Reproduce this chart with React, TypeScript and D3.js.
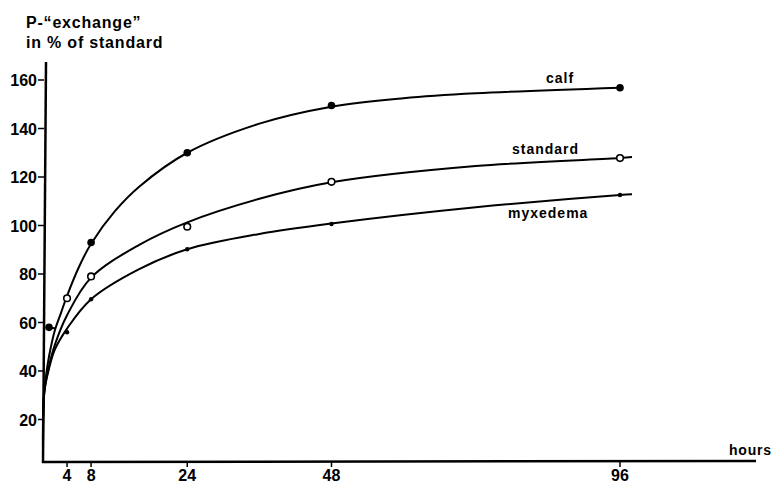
import React from "react";
import * as d3 from "d3";

// Measured points (hours, % of standard)
const calfHours = [1, 8, 24, 48, 96];
const calfValues = [58, 93, 130, 149.5, 156.8];
const standardHours = [4, 8, 24, 48, 96];
const standardValues = [70, 79, 99.5, 118, 127.8];
const myxHours = [4, 8, 24, 48, 96];
const myxValues = [56, 69.6, 90.2, 100.6, 112.6];

// Hand-drawn fitted curves
const calfCurveHours = [0, 0.2, 0.5, 1, 2, 3, 4, 6, 8, 12, 16, 24, 36, 48, 60, 72, 96];
const calfCurveValues = [8, 31, 38, 46, 57, 64, 71, 83, 92.5, 106, 116, 130, 142, 149, 152.5, 154.5, 156.8];
const standardCurveHours = [0, 0.2, 1, 2, 4, 8, 16, 24, 36, 48, 72, 96, 98];
const standardCurveValues = [8, 31, 42, 51, 63, 78.5, 92, 101.3, 111, 117.8, 124.5, 127.8, 128.2];
const myxCurveHours = [0, 0.2, 1, 2, 4, 8, 16, 24, 36, 48, 72, 96, 98];
const myxCurveValues = [8, 31, 41, 49, 57.5, 69.6, 82, 90.2, 96.5, 100.8, 107.5, 112.6, 112.9];

const yTicks = [20, 40, 60, 80, 100, 120, 140, 160];
const xTicks = [4, 8, 24, 48, 96];

const FONT = "'Liberation Sans', Arial, sans-serif";

export default function App() {
  const x = d3.scaleLinear().domain([0, 96]).range([43, 620]);
  const y = d3.scaleLinear().domain([0, 160]).range([468, 80]);
  const axisY = 462;
  const axisX = 44;

  const line = d3
    .line<[number, number]>()
    .x((d) => x(d[0]))
    .y((d) => y(d[1]))
    .curve(d3.curveCatmullRom.alpha(0.5));

  const zip = (a: number[], b: number[]) => a.map((h, i) => [h, b[i]] as [number, number]);

  return (
    <svg
      width={772}
      height={483}
      style={{ position: "absolute", left: 0, top: 0, background: "#fff" }}
      fontFamily={FONT}
      fontWeight="bold"
    >
      <rect x={0} y={0} width={772} height={483} fill="#fff" />
      {/* title */}
      <text x={26} y={28} fontSize={16} letterSpacing={0.8}>
        P-“exchange”
      </text>
      <text x={26} y={48} fontSize={16} letterSpacing={0.8}>
        in % of standard
      </text>

      {/* axes */}
      <line x1={axisX + 2} y1={62} x2={axisX - 1} y2={axisY + 1} stroke="#000" strokeWidth={2.5} />
      <line x1={axisX - 2} y1={axisY} x2={756} y2={axisY - 1} stroke="#000" strokeWidth={2.5} />

      {yTicks.map((t) => (
        <g key={t}>
          <line x1={axisX - 6} y1={y(t)} x2={axisX} y2={y(t)} stroke="#000" strokeWidth={1.5} />
          <text x={axisX - 7} y={y(t) + 6} fontSize={16} textAnchor="end">
            {t}
          </text>
        </g>
      ))}
      {xTicks.map((t) => (
        <g key={t}>
          <line x1={x(t)} y1={axisY} x2={x(t)} y2={axisY + 5} stroke="#000" strokeWidth={1.5} />
          <text x={x(t)} y={481} fontSize={16} textAnchor="middle">
            {t}
          </text>
        </g>
      ))}
      <text x={729} y={455} fontSize={14} letterSpacing={0.8}>
        hours
      </text>

      {/* curves */}
      <path d={line(zip(calfCurveHours, calfCurveValues)) || ""} fill="none" stroke="#000" strokeWidth={2} />
      <path d={line(zip(standardCurveHours, standardCurveValues)) || ""} fill="none" stroke="#000" strokeWidth={2} />
      <path d={line(zip(myxCurveHours, myxCurveValues)) || ""} fill="none" stroke="#000" strokeWidth={2} />

      {/* calf 1h connector */}
      <line x1={x(calfHours[0])} y1={y(calfValues[0])} x2={x(2.1)} y2={y(57.5)} stroke="#000" strokeWidth={2} />

      {/* points */}
      {calfHours.map((h, i) => (
        <circle key={"c" + i} cx={x(h)} cy={y(calfValues[i])} r={3.8} fill="#000" />
      ))}
      {standardHours.map((h, i) => (
        <circle key={"s" + i} cx={x(h)} cy={y(standardValues[i])} r={3.3} fill="#fff" stroke="#000" strokeWidth={1.6} />
      ))}
      {myxHours.map((h, i) => (
        <circle key={"m" + i} cx={x(h)} cy={y(myxValues[i])} r={2.2} fill="#000" />
      ))}

      {/* labels */}
      <text x={546} y={83} fontSize={14} letterSpacing={1}>
        calf
      </text>
      <text x={512} y={154} fontSize={14} letterSpacing={1}>
        standard
      </text>
      <text x={508} y={218} fontSize={14} letterSpacing={1}>
        myxedema
      </text>
    </svg>
  );
}
